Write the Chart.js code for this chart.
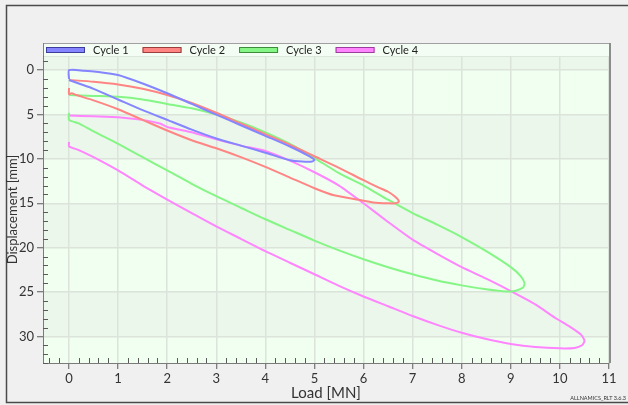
<!DOCTYPE html>
<html>
<head>
<meta charset="utf-8">
<script src="https://cdn.jsdelivr.net/npm/chart.js@4.4.0/dist/chart.umd.min.js"></script>
<style>
  html, body { margin: 0; padding: 0; background: #f0f0f0; }
  #wrap { position: relative; width: 628px; height: 405px; }
</style>
</head>
<body>
<div id="wrap"><canvas id="grafico" width="628" height="405"></canvas></div>
<script>
// datos (Load [MN] / Displacement [mm])
const cycleNames = ['Cycle 1', 'Cycle 2', 'Cycle 3', 'Cycle 4'];
const cycleColors = ['#8585ff', '#ff8585', '#85f585', '#ff85ff'];
const cycleBorders = ['#3c3c9c', '#9c3c3c', '#3c8c3c', '#9c3c9c'];

const cycle1Load = [0, 0, 0.3, 0.6, 1.0, 1.5, 2.0, 2.5, 3.0, 3.5, 4.0, 4.5, 4.9, 5.0, 4.95, 4.75, 4.5, 4.0, 3.5, 3.0, 2.5, 2.0, 1.5, 1.0, 0.5, 0.2, 0];
const cycle1Disp = [1.0, 0, 0.05, 0.2, 0.55, 1.5, 2.6, 3.8, 5.0, 6.2, 7.4, 8.6, 9.7, 10.1, 10.3, 10.3, 10.15, 9.3, 8.5, 7.7, 6.7, 5.6, 4.5, 3.3, 2.1, 1.5, 1.1];

const cycle2Load = [0, 0.5, 1.0, 1.5, 2.0, 2.5, 3.0, 3.5, 4.0, 4.5, 5.0, 5.5, 6.0, 6.3, 6.5, 6.65, 6.72, 6.65, 6.5, 6.2, 5.9, 5.4, 5.0, 4.5, 4.0, 3.5, 3.0, 2.5, 2.0, 1.5, 1.0, 0.5, 0.15, 0.05, 0, 0];
const cycle2Disp = [1.1, 1.3, 1.6, 2.1, 2.8, 3.7, 4.8, 6.0, 7.2, 8.4, 9.7, 11.0, 12.4, 13.2, 13.7, 14.3, 14.8, 15.0, 15.0, 14.9, 14.6, 14.1, 13.3, 12.1, 10.9, 9.8, 8.8, 7.9, 6.8, 5.6, 4.4, 3.4, 2.8, 2.6, 2.7, 2.0];

const cycle3Load = [0, 0.5, 1.0, 1.5, 2.0, 2.5, 3.0, 3.5, 4.0, 4.5, 5.0, 5.5, 6.0, 6.5, 7.0, 7.5, 8.0, 8.5, 9.0, 9.2, 9.28, 9.25, 9.1, 8.9, 8.5, 8.0, 7.5, 7.0, 6.5, 6.0, 5.5, 5.0, 4.5, 4.0, 3.5, 3.0, 2.5, 2.0, 1.5, 1.0, 0.5, 0.2, 0, 0];
const cycle3Disp = [2.8, 2.9, 3.0, 3.3, 3.8, 4.3, 5.0, 5.9, 7.0, 8.3, 9.9, 11.6, 13.0, 14.6, 16.1, 17.4, 18.8, 20.4, 22.2, 23.2, 24.0, 24.5, 24.85, 24.95, 24.7, 24.25, 23.7, 23.0, 22.2, 21.3, 20.3, 19.2, 18.0, 16.8, 15.5, 14.2, 12.8, 11.3, 9.8, 8.3, 6.9, 6.0, 5.6, 4.8];

const cycle4Load = [0, 0.5, 1.0, 1.5, 1.85, 2.0, 2.5, 3.0, 3.5, 4.0, 4.5, 5.0, 5.5, 6.0, 6.5, 7.0, 7.5, 8.0, 8.5, 9.0, 9.5, 9.9, 10.2, 10.43, 10.5, 10.45, 10.3, 10.0, 9.5, 9.0, 8.5, 8.0, 7.5, 7.0, 6.5, 6.0, 5.5, 5.0, 4.5, 4.0, 3.5, 3.0, 2.5, 2.0, 1.5, 1.0, 0.5, 0.2, 0, 0];
const cycle4Disp = [5.1, 5.2, 5.3, 5.6, 6.0, 6.4, 7.0, 7.8, 8.5, 9.1, 10.2, 11.5, 13.0, 15.0, 17.1, 19.1, 20.7, 22.2, 23.5, 24.9, 26.4, 27.9, 28.9, 29.8, 30.5, 31.0, 31.3, 31.35, 31.2, 30.85, 30.3, 29.6, 28.7, 27.7, 26.6, 25.5, 24.3, 23.0, 21.7, 20.4, 19.0, 17.6, 16.1, 14.6, 13.0, 11.3, 9.8, 9.0, 8.6, 8.1];

const xTicks = [0, 1, 2, 3, 4, 5, 6, 7, 8, 9, 10, 11];
const yTicks = [0, 5, 10, 15, 20, 25, 30];

const cargas = [cycle1Load, cycle2Load, cycle3Load, cycle4Load];
const desplaz = [cycle1Disp, cycle2Disp, cycle3Disp, cycle4Disp];

const FUENTE = 'Lato, "Liberation Sans", sans-serif';

// fondo, bandas, leyenda y marco
const fondoPlugin = {
    id: 'fondo',
    beforeDraw(chart) {
        const { ctx, chartArea: a, scales } = chart;
        const y = scales.y;
        ctx.save();
        // marco exterior
        ctx.strokeStyle = '#4a4a4a';
        ctx.lineWidth = 1.5;
        ctx.beginPath();
        ctx.moveTo(628, 5.5);
        ctx.lineTo(6.5, 5.5);
        ctx.lineTo(6.5, 402.5);
        ctx.lineTo(628, 402.5);
        ctx.stroke();
        // zona de leyenda
        ctx.fillStyle = '#f3fdf3';
        ctx.fillRect(a.left, 43, a.right - a.left, a.top - 43);
        // bandas horizontales cada 5 mm
        for (let v = -5; v < y.max; v += 5) {
            const p1 = y.getPixelForValue(Math.max(v, y.min));
            const p2 = y.getPixelForValue(Math.min(v + 5, y.max));
            const idx = Math.floor(v / 5);
            ctx.fillStyle = (Math.abs(idx) % 2 === 0) ? '#f0fff0' : '#eaf7ea';
            ctx.fillRect(a.left, Math.min(p1, p2), a.right - a.left, Math.abs(p2 - p1));
        }
        ctx.strokeStyle = '#dde6dd';
        ctx.lineWidth = 1;
        ctx.beginPath();
        ctx.moveTo(a.left, a.top + 0.5);
        ctx.lineTo(a.right, a.top + 0.5);
        ctx.stroke();
        ctx.restore();
    },
    afterDraw(chart) {
        const { ctx, chartArea: a, scales } = chart;
        const x = scales.x, y = scales.y;
        ctx.save();
        // marcas menores hacia dentro
        ctx.strokeStyle = '#5a5a5a';
        ctx.lineWidth = 1;
        ctx.beginPath();
        for (let i = Math.ceil(x.min * 5); i <= Math.floor(x.max * 5); i++) {
            if (i % 5 === 0) continue;
            const px = Math.round(x.getPixelForValue(i / 5)) + 0.5;
            ctx.moveTo(px, a.bottom);
            ctx.lineTo(px, a.bottom - 5);
        }
        for (let j = Math.ceil(y.min); j <= Math.floor(y.max); j++) {
            if (j % 5 === 0) continue;
            const py = Math.round(y.getPixelForValue(j)) + 0.5;
            ctx.moveTo(a.left, py);
            ctx.lineTo(a.left + 5, py);
        }
        ctx.stroke();
        // marco del grafico
        ctx.strokeStyle = '#a0a0a0';
        ctx.lineWidth = 1;
        ctx.beginPath();
        ctx.moveTo(a.left, 43.5);
        ctx.lineTo(a.right, 43.5);
        ctx.stroke();
        ctx.strokeStyle = '#8c8c8c';
        ctx.lineWidth = 2;
        ctx.beginPath();
        ctx.moveTo(a.right + 1, 43);
        ctx.lineTo(a.right + 1, a.bottom);
        ctx.stroke();
        ctx.strokeStyle = '#808080';
        ctx.lineWidth = 1;
        ctx.beginPath();
        ctx.moveTo(a.left + 0.5, 43);
        ctx.lineTo(a.left + 0.5, a.top);
        ctx.stroke();
        // leyenda
        ctx.font = '11px ' + FUENTE;
        ctx.textBaseline = 'middle';
        let lx = a.left + 3;
        chart.data.datasets.forEach((ds, i) => {
            ctx.fillStyle = cycleColors[i];
            ctx.fillRect(lx, 47.5, 39, 5);
            ctx.strokeStyle = cycleBorders[i];
            ctx.lineWidth = 1;
            ctx.strokeRect(lx + 0.5, 47.5, 38, 5);
            ctx.fillStyle = '#222';
            ctx.fillText(ds.label, lx + 47, 50.5);
            lx += 47 + ctx.measureText(ds.label).width + 14;
        });
        // firma
        ctx.font = '5.5px ' + FUENTE;
        ctx.fillStyle = '#333';
        ctx.textAlign = 'right';
        ctx.fillText('ALLNAMICS_RLT 3.6.3', 626, 398);
        ctx.restore();
    }
};

function crearGrafico() {
    const ctx = document.getElementById('grafico');
    const datasets = cycleNames.map((nombre, i) => ({
        label: nombre,
        data: cargas[i].map((c, k) => ({ x: c, y: desplaz[i][k] })),
        showLine: true,
        borderColor: cycleColors[i],
        borderWidth: 2,
        pointRadius: 0,
        tension: 0.2,
        fill: false
    }));

    new Chart(ctx, {
        type: 'scatter',
        data: { datasets },
        options: {
            responsive: false,
            animation: false,
            layout: { padding: { top: 56, right: 19, left: 0, bottom: 0 } },
            plugins: {
                legend: { display: false },
                tooltip: { enabled: false }
            },
            scales: {
                x: {
                    type: 'linear',
                    min: -0.53,
                    max: 11,
                    afterBuildTicks: (s) => { s.ticks = xTicks.map(v => ({ value: v })); },
                    afterFit: (s) => { s.height = 42; },
                    ticks: {
                        color: '#333',
                        font: { family: FUENTE, size: 13 },
                        padding: 2,
                        maxRotation: 0
                    },
                    grid: { color: '#dbe3db', lineWidth: 1.5, tickLength: 6, tickColor: '#5a5a5a', tickWidth: 1 },
                    border: { color: '#7a7a7a', width: 1 },
                    title: {
                        display: true,
                        text: 'Load [MN]',
                        color: '#333',
                        font: { family: FUENTE, size: 15 },
                        padding: { top: 0, bottom: 3 }
                    }
                },
                y: {
                    type: 'linear',
                    reverse: true,
                    min: -1.6,
                    max: 33,
                    afterBuildTicks: (s) => { s.ticks = yTicks.map(v => ({ value: v })); },
                    afterFit: (s) => { s.width = 43; },
                    ticks: {
                        color: '#333',
                        font: { family: FUENTE, size: 13 },
                        padding: 3
                    },
                    grid: { color: '#dbe3db', lineWidth: 1.5, tickLength: 6, tickColor: '#5a5a5a', tickWidth: 1 },
                    border: { color: '#7a7a7a', width: 1 },
                    title: {
                        display: true,
                        text: 'Displacement [mm]',
                        color: '#333',
                        font: { family: FUENTE, size: 13 },
                        padding: { top: 5, bottom: 0 }
                    }
                }
            }
        },
        plugins: [fondoPlugin]
    });
}

crearGrafico();
</script>
</body>
</html>
